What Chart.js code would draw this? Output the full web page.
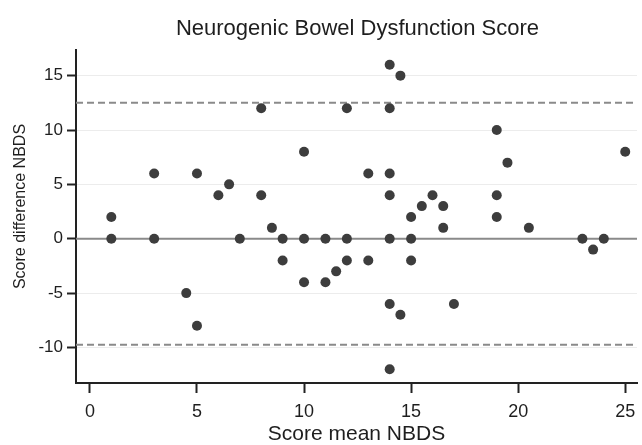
<!DOCTYPE html>
<html>
<head>
<meta charset="utf-8">
<script src="https://cdn.jsdelivr.net/npm/chart.js@4"></script>
<style>
  html, body { margin: 0; padding: 0; background: #fff; overflow: hidden; }
  #wrap { width: 642px; height: 445px; }
</style>
</head>
<body>
<div id="wrap"><canvas id="chart" width="642" height="445"></canvas></div>
<script>
// Score mean (x) and score difference (y) for each patient
const meanScore = [1, 1, 3, 3, 4.5, 5, 5, 6, 6.5, 7, 8, 8, 8.5, 9, 9, 10, 10, 10, 11, 11,
  11.5, 12, 12, 12, 13, 13, 14, 14, 14, 14, 14, 14, 14, 14.5, 14.5, 15, 15, 15, 15.5, 16,
  16.5, 16.5, 17, 19, 19, 19, 19.5, 20.5, 23, 23.5, 24, 25];
const diffScore = [2, 0, 6, 0, -5, 6, -8, 4, 5, 0, 12, 4, 1, 0, -2, 8, 0, -4, 0, -4,
  -3, 12, 0, -2, 6, -2, 16, 12, 6, 4, 0, -6, -12, 15, -7, 2, 0, -2, 3, 4,
  3, 1, -6, 10, 4, 2, 7, 1, 0, -1, 0, 8];

// limits of agreement (dashed) and zero line
const limits = [12.5, -9.75];
const zeroLine = [0];

const xTicks = [0, 5, 10, 15, 20, 25];
const yTicks = [-10, -5, 0, 5, 10, 15];
const xRange = [-0.65, 25.55];
const yRange = [-13.27, 17.36];

const FONT = "'Liberation Sans', Arial, sans-serif";

function hline(v, dashed) {
  return {
    type: 'line',
    data: [{ x: xRange[0], y: v }, { x: xRange[1], y: v }],
    borderColor: '#8a8a8a',
    borderWidth: 2,
    borderDash: dashed ? [7, 4] : [],
    pointRadius: 0,
    fill: false
  };
}

// main title over the plot area, y title drawn by hand so it sits like the original
const titlePlugin = {
  id: 'plotTitle',
  afterDraw(chart) {
    const ctx = chart.ctx;
    const area = chart.chartArea;
    ctx.save();
    ctx.fillStyle = '#1e1e1e';
    ctx.font = '22px ' + FONT;
    ctx.textAlign = 'center';
    ctx.textBaseline = 'alphabetic';
    ctx.fillText('Neurogenic Bowel Dysfunction Score', (area.left + area.right) / 2 + 1, 35);

    ctx.font = '16px ' + FONT;
    ctx.textBaseline = 'middle';
    ctx.translate(21, (area.top + area.bottom) / 2 - 10);
    ctx.rotate(-Math.PI / 2);
    ctx.fillText('Score difference NBDS', 0, 0);
    ctx.restore();
  }
};

const datasets = [{
  type: 'scatter',
  data: meanScore.map((x, i) => ({ x: x, y: diffScore[i] })),
  backgroundColor: '#3d3d3d',
  borderColor: '#3d3d3d',
  borderWidth: 0,
  pointRadius: 5
}];
zeroLine.forEach(v => datasets.push(hline(v, false)));
limits.forEach(v => datasets.push(hline(v, true)));

new Chart(document.getElementById('chart'), {
  data: { datasets: datasets },
  plugins: [titlePlugin],
  options: {
    responsive: false,
    animation: false,
    devicePixelRatio: 1,
    layout: { padding: { top: 50, left: 0, right: 0, bottom: 0 } },
    plugins: {
      legend: { display: false },
      tooltip: { enabled: false },
      title: { display: false }
    },
    scales: {
      x: {
        type: 'linear',
        min: xRange[0],
        max: xRange[1],
        afterBuildTicks: s => { s.ticks = xTicks.map(v => ({ value: v })); },
        afterFit: s => { s.height = 62; s.paddingLeft = 0; s.paddingRight = 0; },
        border: { color: '#222', width: 2 },
        grid: { drawOnChartArea: false, drawTicks: true, tickLength: 10, tickColor: '#222', tickWidth: 2 },
        ticks: { color: '#1e1e1e', font: { family: FONT, size: 18 }, padding: 8, maxRotation: 0 },
        title: {
          display: true,
          text: 'Score mean NBDS',
          color: '#1e1e1e',
          font: { family: FONT, size: 21, lineHeight: 1.0 },
          padding: { top: 0, bottom: 0 }
        }
      },
      y: {
        type: 'linear',
        min: yRange[0],
        max: yRange[1],
        afterBuildTicks: s => { s.ticks = yTicks.map(v => ({ value: v })); },
        afterFit: s => { s.width = 76; s.paddingTop = 0; s.paddingBottom = 0; },
        border: { color: '#222', width: 2 },
        grid: { color: '#ececec', lineWidth: 1, drawTicks: true, tickLength: 9, tickColor: '#222', tickWidth: 2 },
        ticks: { color: '#1e1e1e', font: { family: FONT, size: 17 }, padding: 4 }
      }
    }
  }
});
</script>
</body>
</html>
